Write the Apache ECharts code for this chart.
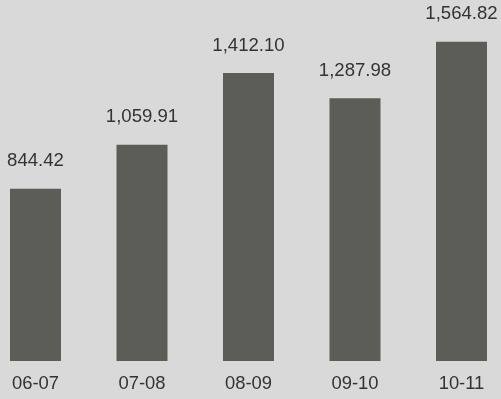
<!DOCTYPE html>
<html><head><meta charset="utf-8">
<script src="https://cdn.jsdelivr.net/npm/echarts@6/dist/echarts.min.js"></script>
<style>html,body{margin:0;padding:0;background:#d9d9d9}#c{width:501px;height:399px}</style>
</head><body><div id="c"></div>
<script>
const categories = ['06-07','07-08','08-09','09-10','10-11'];
const values = [844.42, 1059.91, 1412.10, 1287.98, 1564.82];
const chart = echarts.init(document.getElementById('c'), null, {renderer:'canvas'});
const fmt = v => v.toLocaleString('en-US',{minimumFractionDigits:2,maximumFractionDigits:2});
chart.setOption({
  backgroundColor:'#d9d9d9',
  animation:false,
  grid:{left:35.5, width:426, top:4, bottom:38, containLabel:false},
  xAxis:{type:'category', data:categories, boundaryGap:false,
    axisLine:{show:false}, axisTick:{show:false},
    axisLabel:{color:'#333', fontFamily:'Liberation Sans, Arial', fontSize:18.4, margin:14, interval:0}},
  yAxis:{type:'value', min:0, max:1750, show:false, splitLine:{show:false}},
  series:[{type:'bar', data:values, barWidth:51,
    itemStyle:{color:'#5c5d57'},
    label:{show:true, position:'top', distance:18, color:'#333', fontFamily:'Liberation Sans, Arial', fontSize:18.6,
      formatter:p=>fmt(p.value)}}]
});
</script></body></html>
